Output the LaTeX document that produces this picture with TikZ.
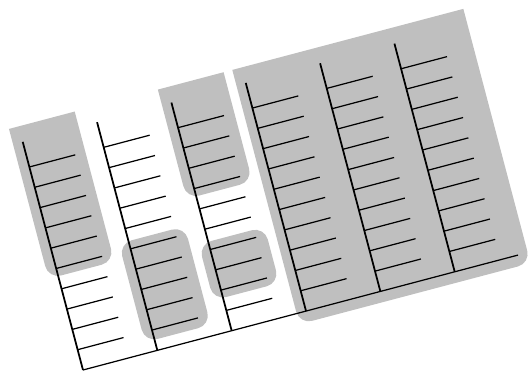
\documentclass[tikz,border=0pt]{standalone}
\usetikzlibrary{calc}
\begin{document}
\begin{tikzpicture}[x=0.02cm, y=0.02cm,
    stem/.style={line width=1pt},
    tick/.style={line width=0.7pt},
    shade/.style={fill=gray!50, rounded corners=0.26cm}
]
\clip (0,0) rectangle (528,372);
\begin{scope}[shift={(83,2)}, rotate=14.8]
%% ============================================================
%% grey groups (the top ones are cut straight)
%% ============================================================
\begin{scope}
\clip (-30,-30) rectangle (480,252);
\fill[shade] (-10,97)  rectangle (58,290);
\fill[shade] (144,139) rectangle (212,290);
\fill[shade] (221,-11) rectangle (460,290);
\end{scope}
\fill[shade] (67,11)  rectangle (135,113);
\fill[shade] (144,34) rectangle (212,92);
%% ============================================================
%% six combs of ten teeth on one base line
%% ============================================================
\foreach \i in {1,...,6} {
  \coordinate (b\i) at ({(\i-1)*76.9},0);
  \coordinate (t\i) at ({(\i-1)*76.9},236);
  \draw[stem] (b\i) -- (t\i);
  \foreach \k in {1,...,10} {
    \coordinate (s\i-\k) at ($(b\i)+(0,21*\k)$);
    \draw[tick] (s\i-\k) -- ++(47.5,0);
  }
}
\coordinate (tail) at (450,0);
\draw[tick] (b1) -- (tail);
\end{scope}
\end{tikzpicture}
\end{document}
